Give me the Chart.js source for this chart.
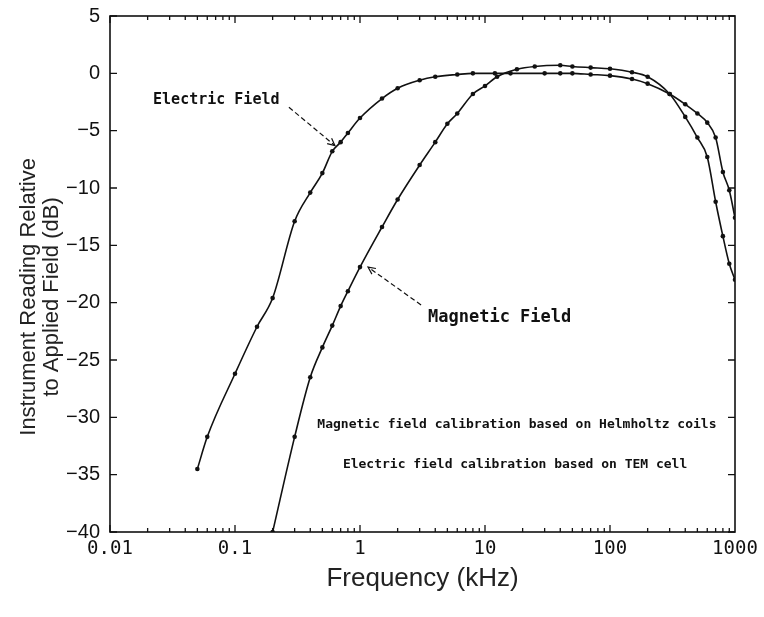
<!DOCTYPE html>
<html><head><meta charset="utf-8">
<script src="https://cdn.jsdelivr.net/npm/chart.js@4/dist/chart.umd.min.js"></script>
<style>html,body{margin:0;padding:0;background:#fff}#wrap{width:764px;height:617px}</style>
</head><body><div id="wrap"><canvas id="c" width="764" height="617"></canvas></div>
<script>
// ---- data (frequency in kHz, reading in dB) ----
const electricFreq = [0.05, 0.06, 0.1, 0.15, 0.2, 0.3, 0.4, 0.5, 0.6, 0.7, 0.8, 1, 1.5, 2, 3, 4, 6, 8, 12, 16, 30, 40, 50, 70, 100, 150, 200, 300, 400, 500, 600, 700, 800, 900, 1000];
const electricDb   = [-34.5, -31.7, -26.2, -22.1, -19.6, -12.9, -10.4, -8.7, -6.8, -6.0, -5.2, -3.9, -2.2, -1.3, -0.6, -0.3, -0.1, 0, 0, 0, 0, 0, 0, -0.1, -0.2, -0.5, -0.9, -1.8, -2.7, -3.5, -4.3, -5.6, -8.6, -10.2, -12.6];
const magneticFreq = [0.2, 0.3, 0.4, 0.5, 0.6, 0.7, 0.8, 1, 1.5, 2, 3, 4, 5, 6, 8, 10, 12.5, 18, 25, 40, 50, 70, 100, 150, 200, 300, 400, 500, 600, 700, 800, 900, 1000];
const magneticDb   = [-40, -31.7, -26.5, -23.9, -22.0, -20.3, -19.0, -16.9, -13.4, -11.0, -8.0, -6.0, -4.4, -3.5, -1.8, -1.1, -0.3, 0.35, 0.6, 0.7, 0.6, 0.5, 0.4, 0.1, -0.3, -1.8, -3.8, -5.6, -7.3, -11.2, -14.2, -16.6, -18.0];

const xTickValues = [0.01, 0.1, 1, 10, 100, 1000];
const xTickLabels = ["0.01", "0.1", "1", "10", "100", "1000"];
const yTickValues = [5, 0, -5, -10, -15, -20, -25, -30, -35, -40];
const yTickLabels = ["5", "0", "\u22125", "\u221210", "\u221215", "\u221220", "\u221225", "\u221230", "\u221235", "\u221240"];

const xTitle = "Frequency (kHz)";
const yTitle = ["Instrument Reading Relative", "to Applied Field (dB)"];

// text annotations anchored in data units [freq, dB]
const labelTexts = ["Electric Field", "Magnetic Field"];
const labelAnchors = [[0.0221, -2.3], [3.5, -21.3]];
const arrowFrom = [[0.27, -2.96], [3.08, -20.2]];
const arrowTo = [[0.63, -6.3], [1.16, -16.9]];
const noteTexts = ["Magnetic field calibration based on Helmholtz coils", "Electric field calibration based on TEM cell"];
const noteAnchors = [[18, -30.6], [17.4, -34.1]];

const toPts = (xs, ys) => xs.map((x, i) => ({x: x, y: ys[i]}));

const decorPlugin = {
  id: 'decor',
  afterDraw(chart) {
    const ctx = chart.ctx, a = chart.chartArea;
    const xs = chart.scales.x, ys = chart.scales.y;
    ctx.save();
    ctx.strokeStyle = '#111';
    ctx.fillStyle = '#111';
    // frame
    ctx.lineWidth = 1.6;
    ctx.strokeRect(a.left, a.top, a.right - a.left, a.bottom - a.top);
    // x ticks (inward, top and bottom)
    ctx.lineWidth = 1.3;
    for (let e = -2; e < 3; e++) {
      for (let m = 1; m <= 9; m++) {
        const v = m * Math.pow(10, e);
        const px = xs.getPixelForValue(v);
        const len = m === 1 ? 7 : 4;
        ctx.beginPath();
        ctx.moveTo(px, a.bottom); ctx.lineTo(px, a.bottom - len);
        ctx.moveTo(px, a.top); ctx.lineTo(px, a.top + len);
        ctx.stroke();
      }
    }
    // y ticks (inward, left and right)
    yTickValues.forEach(v => {
      const py = ys.getPixelForValue(v);
      ctx.beginPath();
      ctx.moveTo(a.left, py); ctx.lineTo(a.left + 7, py);
      ctx.moveTo(a.right, py); ctx.lineTo(a.right - 7, py);
      ctx.stroke();
    });
    // y title
    ctx.font = '22px "Liberation Sans", Arial, sans-serif';
    ctx.textAlign = 'center'; ctx.textBaseline = 'middle';
    ctx.fillStyle = '#222';
    const cy = ys.getPixelForValue(-19.5);
    yTitle.forEach((t, i) => {
      ctx.save();
      ctx.translate(29 + i * 23, cy);
      ctx.rotate(-Math.PI / 2);
      ctx.fillText(t, 0, 0);
      ctx.restore();
    });
    // field labels
    ctx.fillStyle = '#111';
    ctx.textAlign = 'left';
    ctx.font = 'bold 15px "DejaVu Sans Mono", monospace';
    ctx.fillText(labelTexts[0], xs.getPixelForValue(labelAnchors[0][0]), ys.getPixelForValue(labelAnchors[0][1]));
    ctx.font = 'bold 17px "DejaVu Sans Mono", monospace';
    ctx.fillText(labelTexts[1], xs.getPixelForValue(labelAnchors[1][0]), ys.getPixelForValue(labelAnchors[1][1]));
    // dashed arrows
    ctx.lineWidth = 1.2;
    arrowFrom.forEach((f, i) => {
      const x1 = xs.getPixelForValue(f[0]), y1 = ys.getPixelForValue(f[1]);
      const x2 = xs.getPixelForValue(arrowTo[i][0]), y2 = ys.getPixelForValue(arrowTo[i][1]);
      ctx.setLineDash([5, 3]);
      ctx.beginPath(); ctx.moveTo(x1, y1); ctx.lineTo(x2, y2); ctx.stroke();
      ctx.setLineDash([]);
      const ang = Math.atan2(y2 - y1, x2 - x1);
      ctx.beginPath();
      ctx.moveTo(x2 - 8 * Math.cos(ang - 0.45), y2 - 8 * Math.sin(ang - 0.45));
      ctx.lineTo(x2, y2);
      ctx.lineTo(x2 - 8 * Math.cos(ang + 0.45), y2 - 8 * Math.sin(ang + 0.45));
      ctx.stroke();
    });
    // notes
    ctx.font = 'bold 13px "DejaVu Sans Mono", monospace';
    ctx.textAlign = 'center';
    noteTexts.forEach((t, i) => {
      ctx.fillText(t, xs.getPixelForValue(noteAnchors[i][0]), ys.getPixelForValue(noteAnchors[i][1]));
    });
    ctx.restore();
  }
};

new Chart(document.getElementById('c'), {
  type: 'line',
  data: {
    datasets: [
      {label: 'Electric Field', data: toPts(electricFreq, electricDb)},
      {label: 'Magnetic Field', data: toPts(magneticFreq, magneticDb)}
    ]
  },
  options: {
    responsive: false,
    devicePixelRatio: 1,
    animation: false,
    layout: {padding: {top: 16, right: 29, left: 0, bottom: 0}},
    elements: {
      line: {borderColor: '#111', borderWidth: 1.6, tension: 0, cubicInterpolationMode: 'monotone', fill: false},
      point: {radius: 2.3, backgroundColor: '#111', borderColor: '#111', borderWidth: 0, hoverRadius: 2.3}
    },
    plugins: {legend: {display: false}, tooltip: {enabled: false}},
    scales: {
      x: {
        type: 'logarithmic', min: 0.01, max: 1000,
        afterFit: s => { s.height = 85; s.paddingLeft = 0; s.paddingRight = 0; },
        afterBuildTicks: s => { s.ticks = xTickValues.map(v => ({value: v})); },
        grid: {display: false, drawTicks: false},
        border: {display: false},
        ticks: {
          autoSkip: false, maxRotation: 0, padding: 6, color: '#111',
          font: {family: '"DejaVu Sans Mono", monospace', size: 19},
          callback: (v) => { const i = xTickValues.indexOf(v); return i >= 0 ? xTickLabels[i] : ''; }
        },
        title: {display: true, text: xTitle, color: '#222', padding: {top: 0, bottom: 23},
          font: {family: '"Liberation Sans", Arial, sans-serif', size: 26}}
      },
      y: {
        type: 'linear', min: -40, max: 5,
        afterFit: s => { s.width = 110; s.paddingTop = 0; s.paddingBottom = 0; },
        afterBuildTicks: s => { s.ticks = yTickValues.map(v => ({value: v})); },
        grid: {display: false, drawTicks: false},
        border: {display: false},
        ticks: {
          padding: 10, color: '#111',
          font: {family: '"Liberation Sans", Arial, sans-serif', size: 20},
          callback: (v) => { const i = yTickValues.indexOf(v); return i >= 0 ? yTickLabels[i] : ''; }
        }
      }
    }
  },
  plugins: [decorPlugin]
});
</script>
</body></html>
